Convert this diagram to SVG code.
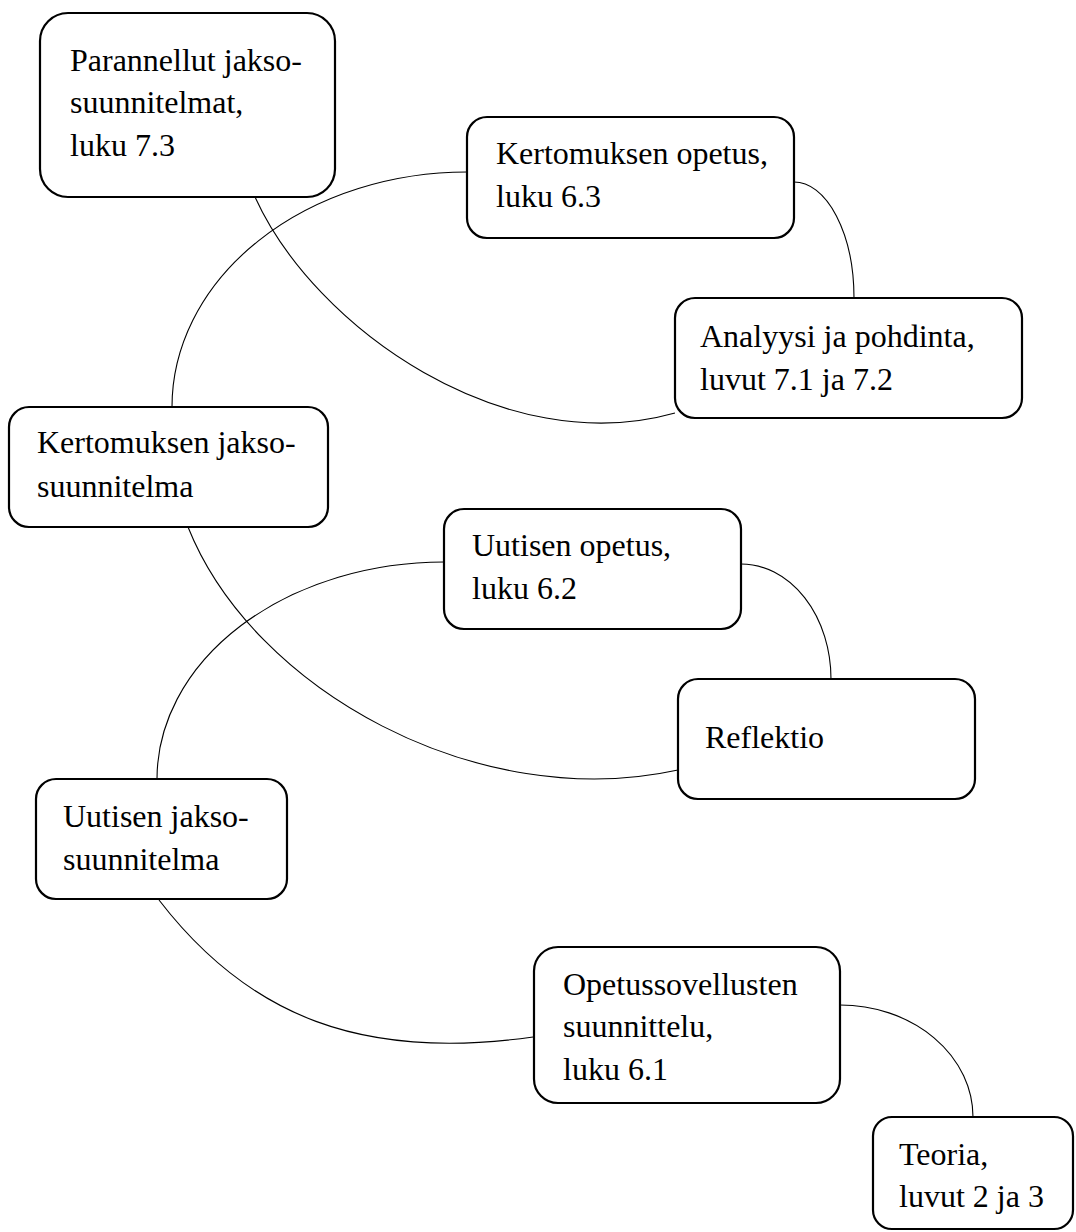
<svg xmlns="http://www.w3.org/2000/svg" width="1076" height="1232" viewBox="0 0 1076 1232">
<style>
.box{fill:#fff;stroke:#000;stroke-width:2.2}
.lbl{font-family:"Liberation Serif","Times New Roman",serif;font-size:32px;fill:#000}
.con{fill:none;stroke:#000;stroke-width:1.1}
</style>
<rect width="1076" height="1232" fill="#fff"/>
<g id="connectors">
<path class="con" d="M255,197 C315,329 505,461 675,413"/>
<path class="con" d="M172,407 A295,235 0 0 1 467,172"/>
<path class="con" d="M794,182 A60,116 0 0 1 854,298"/>
<path class="con" d="M188,527 C253,690 478,814 678,770"/>
<path class="con" d="M157,779 A287,217 0 0 1 444,562"/>
<path class="con" d="M741,564 A90,115 0 0 1 831,679"/>
<path class="con" d="M159,900 C249,1017 363,1061 533,1037"/>
<path class="con" d="M840,1005 A133,112 0 0 1 973,1117"/>
</g>
<g id="n1"><rect class="box" x="40" y="13" width="295" height="184" rx="28"/>
<text class="lbl" x="70" y="71">Parannellut jakso-</text><text class="lbl" x="70" y="113">suunnitelmat,</text><text class="lbl" x="70" y="156">luku 7.3</text></g>
<g id="n2"><rect class="box" x="467" y="117" width="327" height="121" rx="20"/>
<text class="lbl" x="496" y="164">Kertomuksen opetus,</text><text class="lbl" x="496" y="207">luku 6.3</text></g>
<g id="n3"><rect class="box" x="675" y="298" width="347" height="120" rx="20"/>
<text class="lbl" x="700" y="347">Analyysi ja pohdinta,</text><text class="lbl" x="700" y="390">luvut 7.1 ja 7.2</text></g>
<g id="n4"><rect class="box" x="9" y="407" width="319" height="120" rx="20"/>
<text class="lbl" x="37" y="453">Kertomuksen jakso-</text><text class="lbl" x="37" y="497">suunnitelma</text></g>
<g id="n5"><rect class="box" x="444" y="509" width="297" height="120" rx="20"/>
<text class="lbl" x="472" y="556">Uutisen opetus,</text><text class="lbl" x="472" y="599">luku 6.2</text></g>
<g id="n6"><rect class="box" x="678" y="679" width="297" height="120" rx="20"/>
<text class="lbl" x="705" y="748">Reflektio</text></g>
<g id="n7"><rect class="box" x="36" y="779" width="251" height="120" rx="20"/>
<text class="lbl" x="63" y="827">Uutisen jakso-</text><text class="lbl" x="63" y="870">suunnitelma</text></g>
<g id="n8"><rect class="box" x="534" y="947" width="306" height="156" rx="24"/>
<text class="lbl" x="563" y="995">Opetussovellusten</text><text class="lbl" x="563" y="1037">suunnittelu,</text><text class="lbl" x="563" y="1080">luku 6.1</text></g>
<g id="n9"><rect class="box" x="873" y="1117" width="200" height="112" rx="19"/>
<text class="lbl" x="899" y="1165">Teoria,</text><text class="lbl" x="899" y="1207">luvut 2 ja 3</text></g>
</svg>
